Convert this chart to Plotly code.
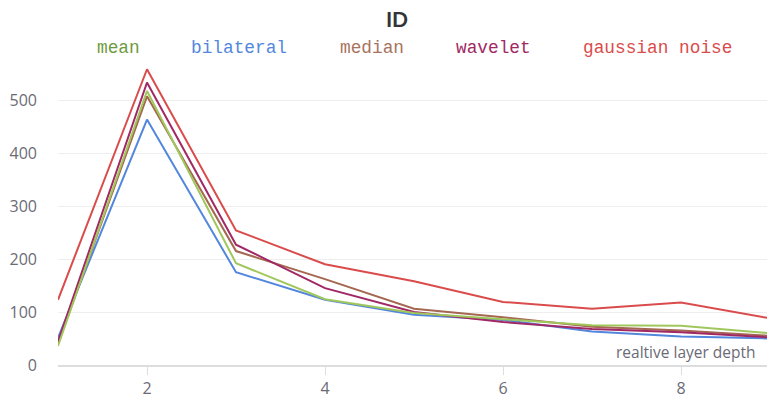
import plotly.graph_objects as go

depth = [1, 2, 3, 4, 5, 6, 7, 8, 9]
mean = [36, 517, 192, 124, 98, 86, 75, 74, 60]
bilateral = [51, 463, 175, 123, 95, 85, 63, 54, 50]
median = [40, 507, 215, 162, 106, 90, 72, 65, 55]
wavelet = [44, 533, 227, 145, 100, 81, 68, 62, 52]
gaussian_noise = [123, 558, 254, 190, 158, 119, 106, 118, 88]

names = ["mean", "bilateral", "median", "wavelet", "gaussian noise"]
series = [mean, bilateral, median, wavelet, gaussian_noise]
line_colors = ["#A0C75C", "#5387DD", "#A46750", "#A12864", "#DA4C4C"]
text_colors = ["#6E9A3E", "#5387DD", "#A8735E", "#A12864", "#DA4C4C"]
draw_order = [1, 2, 3, 0, 4]

fig = go.Figure()
for i in draw_order:
    fig.add_trace(go.Scatter(x=depth, y=series[i], mode="lines", name=names[i],
                             line=dict(color=line_colors[i], width=2), showlegend=False))

W, H = 767, 400
ml, mr, mt, mb = 58, 0, 63, 35
pw = W - ml - mr
ph = H - mt - mb

SANS = "Open Sans, sans-serif"

# custom legend (text only, monospace), centered over plot area
char_w = 10.7
gap = 52
widths = [len(n) * char_w for n in names]
total = sum(widths) + gap * (len(names) - 1)
x0 = ml + pw / 2 - total / 2
annotations = []
for n, w, c in zip(names, widths, text_colors):
    annotations.append(dict(text=n, x=(x0 - ml) / pw, xref="paper",
                            y=(H - mb - 48) / ph, yref="paper",
                            xanchor="left", yanchor="middle", showarrow=False,
                            font=dict(family="Liberation Mono, DejaVu Sans Mono, monospace",
                                      size=17.8, color=c)))
    x0 += w + gap

annotations.append(dict(text="realtive layer depth", x=(758 - ml) / pw, xref="paper",
                        y=(H - mb - 352) / ph, yref="paper",
                        xanchor="right", yanchor="middle", showarrow=False,
                        font=dict(family=SANS, size=15.5, color="#6B6B76")))

fig.update_layout(
    width=W, height=H,
    margin=dict(l=ml, r=mr, t=mt, b=mb, autoexpand=False),
    paper_bgcolor="white", plot_bgcolor="white",
    title=dict(text="<b>ID</b>", x=397 / W, xanchor="center", y=1 - 20 / H, yanchor="middle",
               font=dict(family="Lato, sans-serif", size=21, color="#333338")),
    annotations=annotations,
    xaxis=dict(range=[1, 1 + pw / 89.0], tickvals=[2, 4, 6, 8], showgrid=False,
               showline=True, linecolor="#DDDDDD", linewidth=2, automargin=False,
               ticks="outside", ticklen=8, tickcolor="#DDDDDD", tickwidth=1,
               tickfont=dict(family=SANS, size=16, color="#6B6B76"),
               zeroline=False),
    yaxis=dict(range=[0, ph / 0.53], tickvals=[0, 100, 200, 300, 400, 500],
               showgrid=True, gridcolor="#EEEEEE", gridwidth=1, zeroline=False, showline=False,
               automargin=False, ticklabelstandoff=20,
               tickfont=dict(family=SANS, size=16, color="#6B6B76")),
)

fig.write_html("out.html")
